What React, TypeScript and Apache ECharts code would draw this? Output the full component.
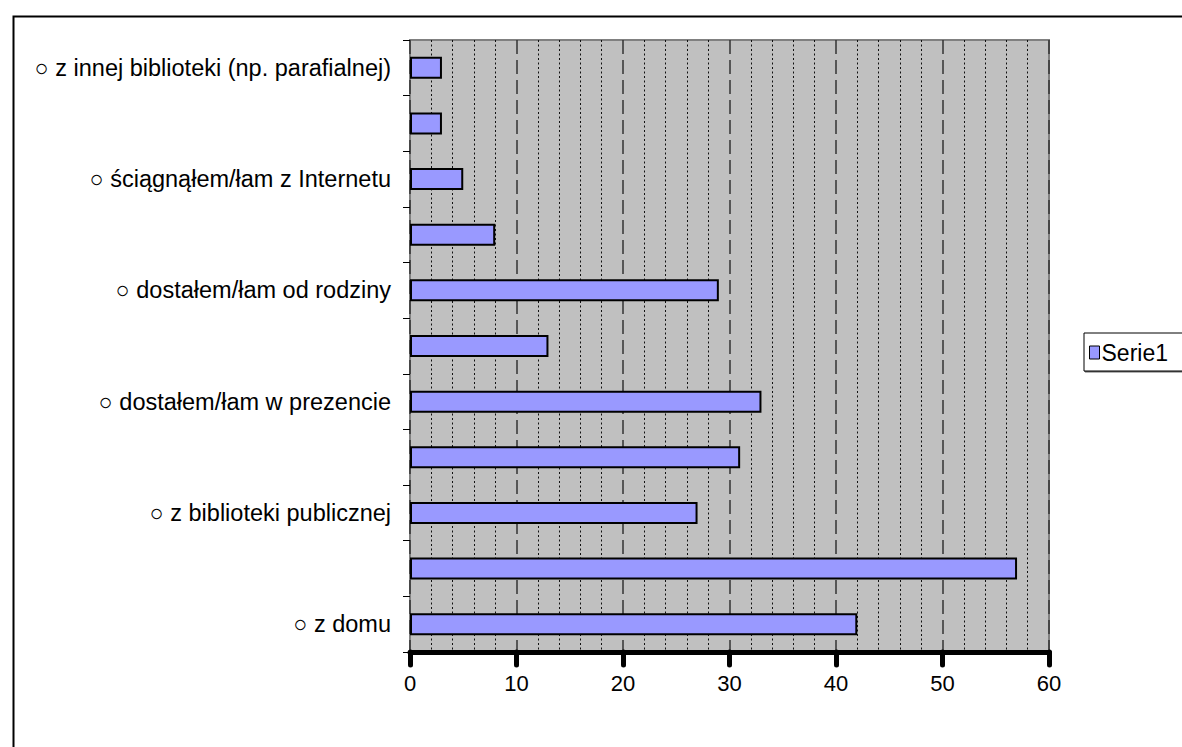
import React, { useEffect, useRef } from "react";
import * as echarts from "echarts";

// categories listed from bottom to top (ECharts category y-axis order)
const categories: string[] = [
  "○ z domu",
  "",
  "○ z biblioteki publicznej",
  "",
  "○ dostałem/łam w prezencie",
  "",
  "○ dostałem/łam od rodziny",
  "",
  "○ ściągnąłem/łam z Internetu",
  "",
  "○ z innej biblioteki (np. parafialnej)",
];
const serie1: number[] = [42, 57, 27, 31, 33, 13, 29, 8, 5, 3, 3];
const seriesName = "Serie1";
const xMin = 0;
const xMax = 60;
const xInterval = 10;

const FONT = "'Liberation Sans', Arial, sans-serif";

export default function App() {
  const ref = useRef<HTMLDivElement>(null);
  useEffect(() => {
    if (!ref.current) return;
    const chart = echarts.init(ref.current, undefined, { renderer: "svg" });
    chart.setOption({
      animation: false,
      backgroundColor: "#ffffff",
      textStyle: { fontFamily: FONT },
      graphic: [
        {
          type: "rect",
          left: 11,
          top: 14,
          shape: { width: 1300, height: 900 },
          style: { fill: "none", stroke: "#000", lineWidth: 2 },
          z: 100,
          silent: true,
        },
      ],
      legend: {
        show: true,
        left: 1084,
        top: 333,
        orient: "vertical",
        icon: "rect",
        itemWidth: 10,
        itemHeight: 13,
        itemGap: 0,
        padding: [8, 30, 7, 5],
        borderColor: "#000",
        borderWidth: 1,
        backgroundColor: "#fff",
        shadowColor: "rgba(0,0,0,0.6)",
        shadowOffsetX: 1,
        shadowOffsetY: 1,
        itemStyle: { borderColor: "#000", borderWidth: 1 },
        textStyle: { fontFamily: FONT, fontSize: 23, color: "#000", padding: [0, 0, 0, -3] },
        data: [seriesName],
      },
      grid: {
        left: 410,
        top: 40,
        right: 133,
        bottom: 95,
        show: true,
        backgroundColor: "#C0C0C0",
        borderColor: "#808080",
        borderWidth: 2,
        containLabel: false,
      },
      xAxis: {
        type: "value",
        min: xMin,
        max: xMax,
        interval: xInterval,
        axisLine: { show: true, lineStyle: { color: "#000", width: 5 } },
        axisTick: {
          show: true,
          length: 13,
          inside: false,
          lineStyle: { color: "#000", width: 5, cap: "round" },
        },
        minorTick: { show: false, splitNumber: 5 },
        axisLabel: { color: "#000", fontSize: 22, fontFamily: FONT, margin: 20 },
        splitLine: {
          show: true,
          lineStyle: { color: "#333", width: 1.5, type: [14, 6] },
        },
        minorSplitLine: {
          show: true,
          lineStyle: { color: "#111", width: 1, type: [2, 2.5] },
        },
      },
      yAxis: {
        type: "category",
        data: categories,
        axisLine: { show: false },
        axisTick: {
          show: true,
          length: 7,
          interval: 0,
          alignWithLabel: false,
          lineStyle: { color: "#000", width: 1 },
        },
        axisLabel: {
          interval: 1,
          color: "#000",
          fontSize: 23.5,
          fontFamily: FONT,
          margin: 19,
        },
        splitLine: { show: false },
      },
      series: [
        {
          name: seriesName,
          type: "bar",
          data: serie1,
          barWidth: 22,
          itemStyle: { color: "#9999FF", borderColor: "#000", borderWidth: 2 },
        },
      ],
    });
    return () => chart.dispose();
  }, []);
  return (
    <div
      ref={ref}
      style={{ position: "fixed", left: 0, top: 0, width: 1182, height: 747 }}
    />
  );
}
